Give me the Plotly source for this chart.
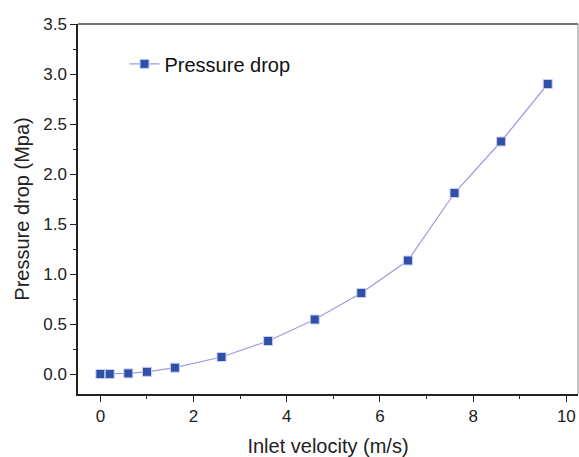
import plotly.graph_objects as go

velocity = [0.0, 0.2, 0.6, 1.0, 1.6, 2.6, 3.6, 4.6, 5.6, 6.6, 7.6, 8.6, 9.6]
pressure_drop = [0.0, 0.0, 0.006, 0.022, 0.063, 0.17, 0.33, 0.545, 0.81, 1.135, 1.81, 2.325, 2.9]

fig = go.Figure()
fig.add_trace(go.Scatter(
    x=velocity, y=pressure_drop, mode="lines+markers", name="Pressure drop",
    line=dict(color="#9c9ce0", width=1.2),
    marker=dict(symbol="square", size=9, color="#2f4fa8", line=dict(color="#c8d0f0", width=1)),
))

font = "Liberation Sans, Arial, sans-serif"
fig.update_layout(
    width=579, height=457,
    margin=dict(l=78, r=1, t=24, b=63),
    paper_bgcolor="white", plot_bgcolor="white",
    font=dict(family=font, size=17, color="#222"),
    showlegend=True,
    legend=dict(x=0.093, y=0.945, xanchor="left", yanchor="top",
                bgcolor="rgba(0,0,0,0)", font=dict(size=20, color="#111")),
    xaxis=dict(
        range=[-0.48, 10.25], tickmode="array", tickvals=[0, 2, 4, 6, 8, 10],
        ticks="outside", ticklen=6, tickwidth=1.2, tickcolor="#222",
        showline=True, linecolor="#222", linewidth=1.5, showgrid=False, zeroline=False,
        minor=dict(tickvals=[1, 3, 5, 7, 9], ticks="outside", ticklen=3, tickcolor="#222"),
        title=dict(text="Inlet velocity (m/s)", font=dict(size=20), standoff=14),
        tickfont=dict(size=17),
    ),
    yaxis=dict(
        range=[-0.2, 3.5], tickmode="array", tickvals=[0, 0.5, 1, 1.5, 2, 2.5, 3, 3.5],
        ticktext=["0.0", "0.5", "1.0", "1.5", "2.0", "2.5", "3.0", "3.5"],
        ticks="outside", ticklen=6, tickwidth=1.2, tickcolor="#222",
        showline=True, linecolor="#222", linewidth=1.5, showgrid=False, zeroline=False,
        minor=dict(tickvals=[0.25, 0.75, 1.25, 1.75, 2.25, 2.75, 3.25], ticks="outside", ticklen=3, tickcolor="#222"),
        title=dict(text="Pressure drop (Mpa)", font=dict(size=20), standoff=8),
        tickfont=dict(size=17),
    ),
    shapes=[
        dict(type="line", xref="paper", yref="paper", x0=0, x1=1, y0=1, y1=1,
             line=dict(color="#444", width=1.5)),
        dict(type="line", xref="paper", yref="paper", x0=1, x1=1, y0=0, y1=1,
             line=dict(color="#888", width=1)),
    ],
)

fig.write_html("out.html", config={"displayModeBar": False},
               post_script="document.body.style.margin='0';document.body.style.overflow='hidden';")
